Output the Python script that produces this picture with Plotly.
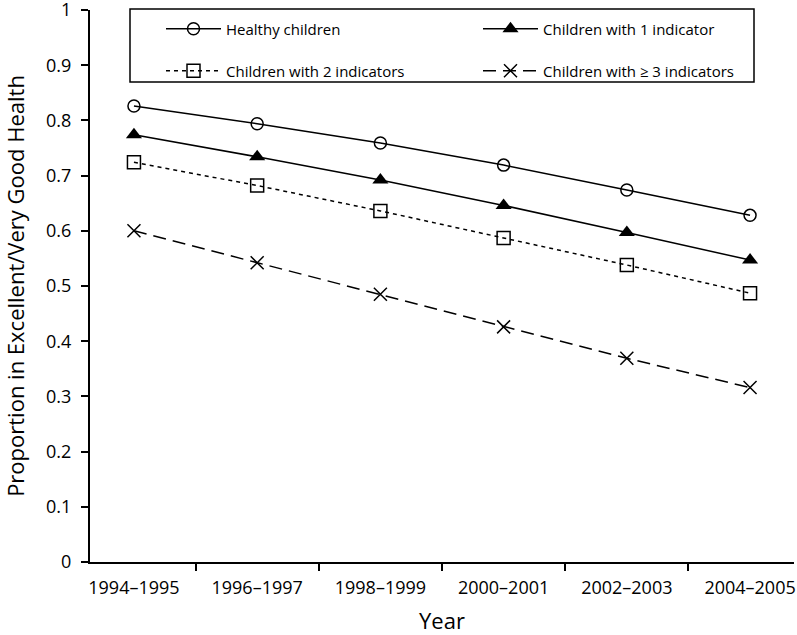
import plotly.graph_objects as go

years = ["1994–1995", "1996–1997", "1998–1999", "2000–2001", "2002–2003", "2004–2005"]
healthy = [0.826, 0.794, 0.759, 0.719, 0.674, 0.628]
one_ind = [0.774, 0.734, 0.692, 0.646, 0.597, 0.547]
two_ind = [0.724, 0.682, 0.636, 0.587, 0.538, 0.487]
three_ind = [0.600, 0.542, 0.485, 0.426, 0.369, 0.316]
y_ticks = [0, 0.1, 0.2, 0.3, 0.4, 0.5, 0.6, 0.7, 0.8, 0.9, 1]
y_tick_text = ["0", "0.1", "0.2", "0.3", "0.4", "0.5", "0.6", "0.7", "0.8", "0.9", "1"]

names = ["Healthy children", "Children with 1 indicator",
         "Children with 2 indicators", "Children with ≥ 3 indicators"]

FONT = "Open Sans"
fig = go.Figure()
fig.add_trace(go.Scatter(x=years, y=healthy, name=names[0], mode="lines+markers", legend="legend",
                         line=dict(color="black", width=1.5),
                         marker=dict(symbol="circle-open", size=12, color="black", line=dict(width=1.5))))
fig.add_trace(go.Scatter(x=years, y=one_ind, name=names[1], mode="lines+markers", legend="legend2",
                         line=dict(color="black", width=1.5),
                         marker=dict(symbol="triangle-up", size=14, color="black")))
fig.add_trace(go.Scatter(x=years, y=two_ind, name=names[2], mode="lines+markers", legend="legend3",
                         line=dict(color="black", width=1.5, dash="4px,4px"),
                         marker=dict(symbol="square-open", size=13, color="black", line=dict(width=1.5))))
fig.add_trace(go.Scatter(x=years, y=three_ind, name=names[3], mode="lines+markers", legend="legend4",
                         line=dict(color="black", width=1.5, dash="13px,7px"),
                         marker=dict(symbol="x-thin-open", size=13, color="black", line=dict(width=1.5))))

leg_common = dict(orientation="v", xanchor="left", yanchor="middle",
                  bgcolor="rgba(0,0,0,0)", borderwidth=0,
                  font=dict(size=15, family=FONT), itemwidth=55)

TOP, BOT, LEFT, RIGHT = 10, 562, 90, 794
H = BOT - TOP
W = RIGHT - LEFT
col1_x = (161 - LEFT) / W
col2_x = (478 - LEFT) / W
row1_y = (BOT - 29) / H
row2_y = (BOT - 71) / H

fig.update_layout(
    width=797, height=635,
    margin=dict(l=LEFT, r=797 - RIGHT, t=TOP, b=635 - BOT),
    paper_bgcolor="white", plot_bgcolor="white",
    font=dict(family=FONT, color="black", size=18),
    showlegend=True,
    legend=dict(x=col1_x, y=row1_y, **leg_common),
    legend2=dict(x=col2_x, y=row1_y, **leg_common),
    legend3=dict(x=col1_x, y=row2_y, **leg_common),
    legend4=dict(x=col2_x, y=row2_y, **leg_common),
    shapes=[dict(type="rect", xref="paper", yref="paper",
                 x0=(130 - LEFT) / W, x1=(754 - LEFT) / W,
                 y0=(BOT - 82) / H, y1=(BOT - 9) / H,
                 line=dict(color="black", width=1.5), fillcolor="rgba(0,0,0,0)", layer="above")],
    xaxis=dict(showline=True, linecolor="black", linewidth=2, ticks="outside",
               tickson="boundaries", ticklen=7, tickcolor="black", tickwidth=1.5,
               showgrid=False, zeroline=False, ticklabelstandoff=8, automargin=False,
               title=dict(text="Year", font=dict(size=22), standoff=21),
               tickfont=dict(size=18)),
    yaxis=dict(range=[0, 1], tickvals=y_ticks, ticktext=y_tick_text, showline=True,
               linecolor="black", linewidth=2, automargin=False, ticklabeloverflow="allow",
               ticks="outside", ticklen=7, tickcolor="black", tickwidth=1.5,
               showgrid=False, zeroline=False, ticklabelstandoff=6,
               title=dict(text="Proportion in Excellent/Very Good Health", font=dict(size=22), standoff=30),
               tickfont=dict(size=18)),
)
fig.write_html("out.html", config={"displayModeBar": False})

with open("out.html", "r", encoding="utf-8") as f:
    html = f.read()
html = html.replace("<body>", '<body style="margin:0;padding:0;overflow:hidden">', 1)
with open("out.html", "w", encoding="utf-8") as f:
    f.write(html)
